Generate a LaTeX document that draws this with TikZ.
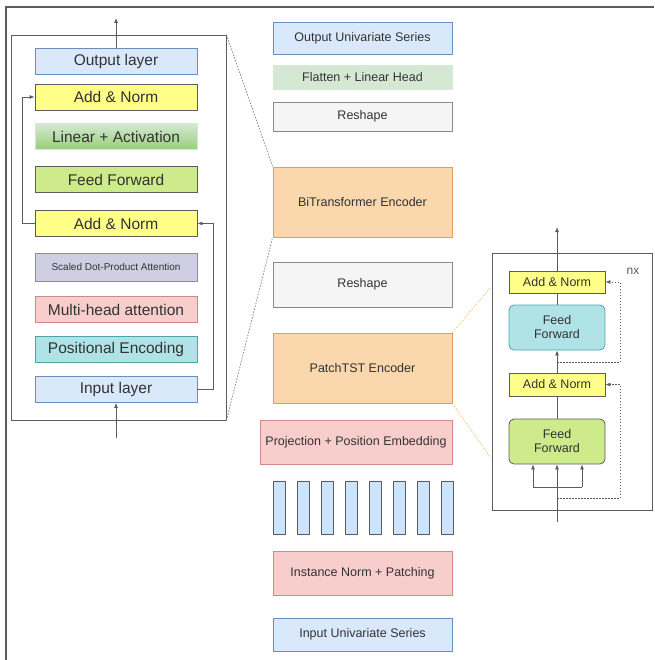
\documentclass[tikz,border=0pt]{standalone}
\usepackage{fontspec}
\setmainfont{Liberation Sans}
\usetikzlibrary{positioning,arrows.meta}
\definecolor{txt}{HTML}{333333}
\definecolor{blueF}{HTML}{DAE8FC}
\definecolor{blueD}{HTML}{6C8EBF}
\definecolor{yelF}{HTML}{FFFF88}
\definecolor{darkD}{HTML}{5A5C60}
\definecolor{greenF}{HTML}{CDEB8B}
\definecolor{lgreenF}{HTML}{D5E8D4}
\definecolor{mgreenF}{HTML}{97D077}
\definecolor{lgreenD}{HTML}{82B366}
\definecolor{purF}{HTML}{D0CEE2}
\definecolor{purD}{HTML}{8C87B0}
\definecolor{redF}{HTML}{F8CECC}
\definecolor{redD}{HTML}{D08A86}
\definecolor{tealF}{HTML}{B0E3E6}
\definecolor{tealD}{HTML}{4BA6AC}
\definecolor{grayF}{HTML}{F5F5F5}
\definecolor{grayD}{HTML}{8A8A8A}
\definecolor{orF}{HTML}{FAD7AC}
\definecolor{orD}{HTML}{D9A256}
\definecolor{barF}{HTML}{CCE5FF}
\definecolor{zoomO}{HTML}{F5C27A}
\tikzset{
  basic/.style = {draw, rectangle, inner sep=0pt, text=txt, line width=0.8pt},
  layer/.style = {basic, minimum width=162pt, minimum height=26pt, font=\fontsize{15.5}{17}\selectfont},
  stage/.style = {basic, minimum width=179pt, font=\fontsize{12.5}{14}\selectfont},
  rblock/.style = {basic, minimum width=96pt, align=center, font=\fontsize{12.5}{14}\selectfont},
  bar/.style = {basic, fill=barF, draw=darkD, minimum width=12pt, minimum height=53pt},
  arr/.style = {-{Latex[length=5pt,width=4pt]}, draw=darkD, line width=0.8pt},
  link/.style = {draw=darkD, line width=0.8pt},
  res/.style = {draw=darkD, line width=0.8pt, dash pattern=on 1.5pt off 1.5pt},
}

\begin{document}
\begin{tikzpicture}[x=1pt, y=-1pt]
 \useasboundingbox (0,0) rectangle (654,660);
 % outer frame
 \draw[line width=1.6pt, draw=darkD] (6,660) -- (6,7) -- (654,7);

 % encoder on the left
 \node[basic, draw=darkD, minimum width=215pt, minimum height=385pt] (enc) at (118.5,227.5) {};
 \node[layer, fill=blueF, draw=blueD] (outl) at (116,61.5) {Output layer};
 \node[layer, fill=yelF, draw=darkD] (an2) at (116,97) {Add \& Norm};
 \node[layer, top color=lgreenF, bottom color=mgreenF, draw=lgreenF] (lin) at (116,136.5) {Linear + Activation};
 \node[layer, fill=greenF, draw=darkD] (ff) at (116,179.5) {Feed Forward};
 \node[layer, fill=yelF, draw=darkD] (an1) at (116,223.5) {Add \& Norm};
 \node[layer, fill=purF, draw=purD, minimum height=28pt, font=\fontsize{10}{11}\selectfont] (sdpa) at (116,267) {Scaled Dot-Product Attention};
 \node[layer, fill=redF, draw=redD] (mha) at (116,309.5) {Multi-head attention};
 \node[layer, fill=tealF, draw=tealD] (pe) at (116,349.5) {Positional Encoding};
 \node[layer, fill=blueF, draw=blueD] (inl) at (116,389.5) {Input layer};
 \coordinate (etop) at (116,18);
 \coordinate (ebot) at (116,438);
 \draw[arr] (outl.north) -- (etop);
 \draw[arr] (ebot) -- (inl.south);
 \draw[arr] (an1.west) -- ++(-12,0) |- (an2.west);
 \draw[arr] (inl.east) -- ++(16,0) |- (an1.east);

 % main pipeline
 \node[stage, fill=blueF, draw=blueD, minimum height=32pt] (ous) at (362.5,38) {Output Univariate Series};
 \node[stage, fill=lgreenF, draw=lgreenF, minimum height=24pt] (flat) at (362.5,77) {Flatten + Linear Head};
 \node[stage, fill=grayF, draw=grayD, minimum height=29pt] (resh2) at (362.5,116.5) {Reshape};
 \node[stage, fill=orF, draw=orD, minimum height=70pt] (bit) at (362.5,202) {BiTransformer Encoder};
 \node[stage, fill=grayF, draw=grayD, minimum height=45pt] (resh1) at (362.5,284.5) {Reshape};
 \node[stage, fill=orF, draw=orD, minimum height=70pt] (ptst) at (362.5,368) {PatchTST Encoder};
 \node[stage, fill=redF, draw=redD, minimum width=192pt, minimum height=44pt] (proj) at (356,442) {Projection + Position Embedding};
 \foreach \i in {0,...,7}
   \node[bar] (p\i) at (279+24*\i,507.5) {};
 \node[stage, fill=redF, draw=redD, minimum height=44pt] (inp) at (362.5,573) {Instance Norm + Patching};
 \node[stage, fill=blueF, draw=blueD, minimum height=33pt] (ius) at (362.5,634.5) {Input Univariate Series};

 % zoom lines
 \draw[res, draw=grayD] (enc.north east) -- (bit.north west);
 \draw[res, draw=grayD] (enc.south east) -- (bit.south west);
 \coordinate (zt) at (491,287);
 \coordinate (zb) at (491,458);
 \draw[res, draw=zoomO] (ptst.north east) -- (zt);
 \draw[res, draw=zoomO] (ptst.south east) -- (zb);

 % PatchTST block on the right
 \node[basic, draw=darkD, minimum width=160pt, minimum height=257pt] (tbox) at (572,381.5) {};
 \node[rblock, fill=yelF, draw=darkD, minimum height=22pt] (ran2) at (557,282) {Add \& Norm};
 \node[rblock, fill=tealF, draw=tealD, rounded corners=5pt, minimum height=45pt] (rff2) at (557,327.5) {Feed\\Forward};
 \node[rblock, fill=yelF, draw=darkD, minimum height=23pt] (ran1) at (557,384.5) {Add \& Norm};
 \node[rblock, fill=greenF, draw=darkD, rounded corners=5pt, minimum height=45pt] (rff1) at (557,441.5) {Feed\\Forward};
 \node[text=darkD, font=\fontsize{12}{14}\selectfont] (nx) at (633,271) {nx};
 \coordinate (rin) at (557,522);
 \coordinate (rout) at (557,227);
 \coordinate (sl) at (533,487);
 \coordinate (sr) at (582,487);
 \draw[arr] (rin) -- (rff1.south);
 \draw[link] (sl) -- (sr);
 \draw[arr] (sl) -- (sl |- rff1.south);
 \draw[arr] (sr) -- (sr |- rff1.south);
 \draw[link] (rff1.north) -- (ran1.south);
 \draw[arr] (ran1.north) -- (rff2.south);
 \draw[link] (rff2.north) -- (ran2.south);
 \draw[arr] (ran2.north) -- (rout);
 \coordinate (d1) at (557,498);
 \coordinate (d2) at (557,362);
 \draw[res, arr, dash pattern=on 1.5pt off 1.5pt] (d1) -- ++(63,0) |- (ran1.east);
 \draw[res, arr, dash pattern=on 1.5pt off 1.5pt] (d2) -- ++(63,0) |- (ran2.east);
\end{tikzpicture}
\end{document}
